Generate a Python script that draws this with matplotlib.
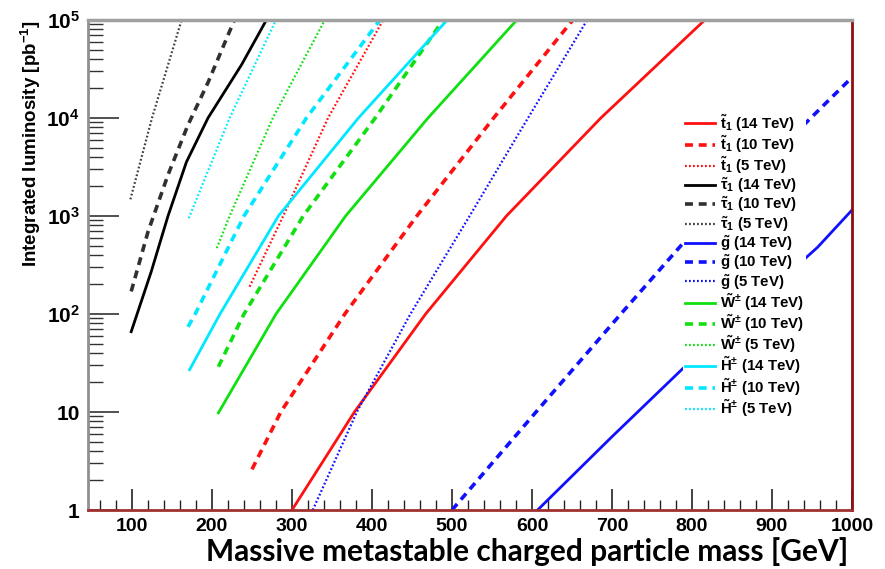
import matplotlib
matplotlib.use("Agg")
import matplotlib.pyplot as plt
from matplotlib.ticker import FixedLocator, MultipleLocator, NullFormatter, FixedFormatter

plt.rcParams['font.family'] = ['Liberation Sans', 'DejaVu Sans']
plt.rcParams['font.weight'] = 'bold'
plt.rcParams['mathtext.fontset'] = 'custom'
plt.rcParams['mathtext.rm'] = 'Liberation Sans:bold'
plt.rcParams['mathtext.it'] = 'Liberation Sans:bold'
plt.rcParams['mathtext.bf'] = 'Liberation Sans:bold'

# ---- data (mass in GeV, integrated luminosity in pb^-1) ----
stop14_m = [300, 378, 467, 568, 686, 816]
stop14_y = [1, 10, 100, 1e3, 1e4, 1e5]
stop10_m = [250, 286, 366, 456, 552, 651]
stop10_y = [2.6, 10, 100, 1e3, 1e4, 1e5]
stop5_m = [247, 289, 345, 414]
stop5_y = [190, 1e3, 1e4, 1e5]

stau14_m = [99, 124, 145, 168, 195, 237, 268]
stau14_y = [66, 270, 1e3, 3550, 1e4, 3.5e4, 1e5]
stau10_m = [99, 120, 145, 170, 195, 228]
stau10_y = [170, 690, 2630, 8500, 2.3e4, 1e5]
stau5_m = [98, 125, 162]
stau5_y = [1480, 1e4, 1e5]

glu14_m = [607, 700, 789, 880, 957, 1000]
glu14_y = [1, 5.6, 28, 130, 480, 1150]
glu10_m = [500, 605, 711, 789, 880, 956, 1000]
glu10_y = [1, 10, 100, 530, 2800, 1.15e4, 2.6e4]
glu5_m = [326, 381, 448, 522, 595, 669]
glu5_y = [1, 10, 100, 1e3, 1e4, 1e5]

wino14_m = [208, 280, 367, 470, 581]
wino14_y = [9.8, 100, 1e3, 1e4, 1e5]
wino10_m = [208, 240, 314, 404, 489]
wino10_y = [29, 100, 1e3, 1e4, 1e5]
wino5_m = [206, 222, 276, 341]
wino5_y = [470, 1e3, 1e4, 1e5]

hino14_m = [172, 210, 283, 383, 494]
hino14_y = [27, 100, 1e3, 1e4, 1e5]
hino10_m = [170, 179, 240, 318, 410]
hino10_y = [74, 100, 1e3, 1e4, 1e5]
hino5_m = [171, 222, 280]
hino5_y = [950, 1e4, 1e5]

legend_labels = [
    r'$\tilde{t}_1$ (14 TeV)', r'$\tilde{t}_1$ (10 TeV)', r'$\tilde{t}_1$ (5 TeV)',
    r'$\tilde{\tau}_1$ (14 TeV)', r'$\tilde{\tau}_1$ (10 TeV)', r'$\tilde{\tau}_1$ (5 TeV)',
    r'$\tilde{g}$ (14 TeV)', r'$\tilde{g}$ (10 TeV)', r'$\tilde{g}$ (5 TeV)',
    r'$\tilde{W}^{\pm}$ (14 TeV)', r'$\tilde{W}^{\pm}$ (10 TeV)', r'$\tilde{W}^{\pm}$ (5 TeV)',
    r'$\tilde{H}^{\pm}$ (14 TeV)', r'$\tilde{H}^{\pm}$ (10 TeV)', r'$\tilde{H}^{\pm}$ (5 TeV)',
]

x_ticks = [100, 200, 300, 400, 500, 600, 700, 800, 900, 1000]
y_ticks = [1, 10, 100, 1e3, 1e4, 1e5]
y_tick_labels = ['1', '10', r'$10^2$', r'$10^3$', r'$10^4$', r'$10^5$']

series = [
    (stop14_m, stop14_y, '#ff1010', 'solid'),
    (stop10_m, stop10_y, '#ff1010', 'dashed'),
    (stop5_m, stop5_y, '#ff1010', 'dotted'),
    (stau14_m, stau14_y, '#000000', 'solid'),
    (stau10_m, stau10_y, '#303030', 'dashed'),
    (stau5_m, stau5_y, '#404040', 'dotted'),
    (glu14_m, glu14_y, '#1010ff', 'solid'),
    (glu10_m, glu10_y, '#1010ff', 'dashed'),
    (glu5_m, glu5_y, '#1010ff', 'dotted'),
    (wino14_m, wino14_y, '#10e010', 'solid'),
    (wino10_m, wino10_y, '#10e010', 'dashed'),
    (wino5_m, wino5_y, '#10e010', 'dotted'),
    (hino14_m, hino14_y, '#00e8ff', 'solid'),
    (hino10_m, hino10_y, '#00e8ff', 'dashed'),
    (hino5_m, hino5_y, '#00e8ff', 'dotted'),
]

fig = plt.figure(figsize=(8.85, 5.69), dpi=100)
ax = fig.add_axes([88/885, 1-510/569, (852-88)/885, (510-20)/569])

for (m, y, c, ls), lab in zip(series, legend_labels):
    if ls == 'solid':
        ax.plot(m, y, color=c, lw=2.0, ls='-', label=lab)
    elif ls == 'dashed':
        ax.plot(m, y, color=c, lw=2.6, ls=(0, (2.2, 1.6)), label=lab)
    else:
        ax.plot(m, y, color=c, lw=1.6, ls=(0, (0.8, 1.0)), label=lab)

ax.set_yscale('log')
ax.set_xlim(45, 1000)
ax.set_ylim(1, 1e5)

ax.xaxis.set_major_locator(FixedLocator(x_ticks))
ax.xaxis.set_minor_locator(MultipleLocator(20))
ax.yaxis.set_major_locator(FixedLocator(y_ticks))
ax.yaxis.set_major_formatter(FixedFormatter(y_tick_labels))
ax.yaxis.set_minor_formatter(NullFormatter())

ax.tick_params(axis='x', which='major', direction='in', length=15, width=1.2, color='#222222',
               labelsize=14, pad=6, top=False)
ax.tick_params(axis='x', which='minor', direction='in', length=7, width=1.0, color='#222222', top=False)
ax.tick_params(axis='y', which='major', direction='in', length=22, width=1.2, color='#333333',
               labelsize=15, pad=6, right=False)
ax.tick_params(axis='y', which='minor', direction='in', length=11, width=1.0, color='#333333', right=False)
for lbl in ax.get_xticklabels() + ax.get_yticklabels():
    lbl.set_fontweight('bold')

ax.spines['top'].set_color('#a0a0a0')
ax.spines['top'].set_linewidth(2.5)
ax.spines['left'].set_color('#909090')
ax.spines['left'].set_linewidth(2.0)
ax.spines['right'].set_color('#8b1010')
ax.spines['right'].set_linewidth(2.0)
ax.spines['bottom'].set_color('#a03030')
ax.spines['bottom'].set_linewidth(2.0)

ax.set_ylabel(r'Integrated luminosity [pb$^{-1}$]', fontsize=13.5, fontweight='bold', loc='top',
              labelpad=2)

leg = ax.legend(loc='upper left', bbox_to_anchor=((683-88)/764, (510-110)/490), frameon=True,
                framealpha=1, facecolor='white', edgecolor='none', fontsize=10.8,
                handlelength=2.0, handletextpad=0.3, labelspacing=0.0, borderpad=0.15,
                borderaxespad=0)
for t in leg.get_texts():
    t.set_fontweight('bold')

fig.text(848/885, 1-561/569, 'Massive metastable charged particle mass [GeV]',
         fontsize=21.5, fontweight='bold', family=['Lato', 'DejaVu Sans'],
         ha='right', va='baseline', color='black')

fig.savefig('out.png', dpi=100, facecolor='white')
